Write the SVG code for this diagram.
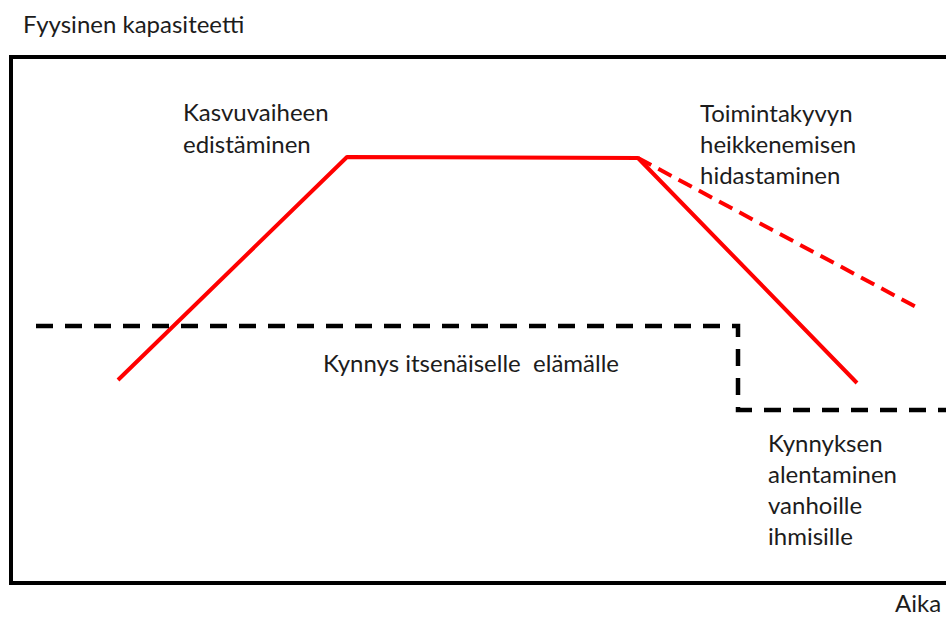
<svg xmlns="http://www.w3.org/2000/svg" width="946" height="617" viewBox="0 0 946 617">
  <style>
    .lbl { font-family: Lato, "Open Sans", "Liberation Sans", sans-serif; font-size: 24px; fill: #1c1c1c; }
    .frame { fill: none; stroke: #000; stroke-width: 4; }
    .capacity { fill: none; stroke: #ff0000; stroke-width: 4; stroke-linejoin: round; }
    .capacity-slow { fill: none; stroke: #ff0000; stroke-width: 4; stroke-dasharray: 15 8; }
    .threshold { fill: none; stroke: #000; stroke-width: 4.5; stroke-dasharray: 17 12; }
  </style>
  <rect width="946" height="617" fill="#fff"/>

  <!-- axis titles -->
  <g id="y-axis-title"><text class="lbl" x="23" y="33">Fyysinen kapasiteetti</text></g>
  <g id="x-axis-title"><text class="lbl" x="895" y="612">Aika</text></g>

  <!-- plot frame (open to the right) -->
  <g id="frame"><path class="frame" d="M 960 57 H 11 V 583 H 960"/></g>

  <g id="connectors">
    <!-- physical capacity over the lifespan -->
    <polyline class="capacity" points="118,380 347,157 638,158 857,383"/>
    <!-- slowed decline -->
    <line class="capacity-slow" x1="638" y1="158" x2="918" y2="308"/>
    <!-- threshold for independent living, lowered in old age -->
    <polyline class="threshold" points="36,326 738,326 738,410 946,410"/>
  </g>

  <g id="growth-label">
    <text class="lbl" x="183" y="121">Kasvuvaiheen</text>
    <text class="lbl" x="183" y="153">edistäminen</text>
  </g>
  <g id="decline-label">
    <text class="lbl" x="700" y="122">Toimintakyvyn</text>
    <text class="lbl" x="700" y="153">heikkenemisen</text>
    <text class="lbl" x="700" y="184">hidastaminen</text>
  </g>
  <g id="threshold-label">
    <text class="lbl" x="323" y="372" xml:space="preserve">Kynnys itsenäiselle  elämälle</text>
  </g>
  <g id="lowered-threshold-label">
    <text class="lbl" x="768" y="452">Kynnyksen</text>
    <text class="lbl" x="768" y="483">alentaminen</text>
    <text class="lbl" x="768" y="514">vanhoille</text>
    <text class="lbl" x="768" y="545">ihmisille</text>
  </g>
</svg>
